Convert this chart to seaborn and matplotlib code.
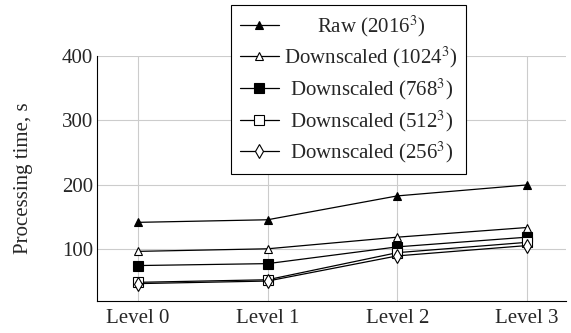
import matplotlib
matplotlib.use("Agg")
import matplotlib.pyplot as plt
import seaborn as sns
import pandas as pd

levels = ["Level 0", "Level 1", "Level 2", "Level 3"]
raw_2016 = [142, 146, 183, 200]
ds_1024 = [97, 101, 119, 134]
ds_768 = [75, 78, 104, 119]
ds_512 = [49, 53, 95, 111]
ds_256 = [47, 51, 90, 106]
series_names = ["Raw (2016$^3$)", "Downscaled (1024$^3$)", "Downscaled (768$^3$)",
                "Downscaled (512$^3$)", "Downscaled (256$^3$)"]
y_ticks = [100, 200, 300, 400]

sns.set_theme(style="whitegrid")
plt.rcParams["font.family"] = ["Liberation Serif", "DejaVu Serif"]
plt.rcParams["mathtext.fontset"] = "stix"

FS = 15
fig = plt.figure(figsize=(5.71, 3.33), dpi=100)
ax = fig.add_axes([0.170, 0.096, 0.821, 0.736])

styles = [("^", "black"), ("^", "white"), ("s", "black"), ("s", "white"), ("d", "white")]
sizes = [6, 6, 7, 7, 7]
all_series = [raw_2016, ds_1024, ds_768, ds_512, ds_256]
x_idx = list(range(len(levels)))
for name, vals, (m, fc), ms in zip(series_names, all_series, styles, sizes):
    df = pd.DataFrame({"x": x_idx, "y": vals})
    sns.lineplot(data=df, x="x", y="y", ax=ax, color="black", linewidth=0.9,
                 marker=m, markersize=ms, markerfacecolor=fc, markeredgecolor="black",
                 markeredgewidth=0.8, label=name)

ax.set_xlim(-0.315, 3.3)
ax.set_ylim(20, 400)
ax.set_xticks(x_idx)
ax.set_xticklabels(levels)
ax.set_yticks(y_ticks)
ax.set_xlabel("")
ax.set_ylabel("Processing time, s", fontsize=FS)
ax.yaxis.set_label_coords(-0.136, 0.5)
ax.tick_params(axis="y", labelsize=FS, length=0, pad=3)
ax.tick_params(axis="x", labelsize=FS, length=0, pad=6)
ax.grid(True, color="#cccccc", linewidth=0.8)
for s in ["top", "right"]:
    ax.spines[s].set_visible(False)
for s in ["left", "bottom"]:
    ax.spines[s].set_color("black")
    ax.spines[s].set_linewidth(0.8)

leg = ax.legend(loc="upper left", bbox_to_anchor=(0.405, 0.985),
                bbox_transform=fig.transFigure, fontsize=FS, frameon=True,
                fancybox=False, edgecolor="black", framealpha=1,
                handlelength=1.9, labelspacing=0.3, borderpad=0.4,
                handletextpad=0.25, borderaxespad=0)
leg.get_frame().set_linewidth(0.8)

# centre the legend labels within the text column
fig.canvas.draw()
renderer = fig.canvas.get_renderer()
widths = [t.get_window_extent(renderer).width for t in leg.get_texts()]
wmax = max(widths)
for t, w in zip(leg.get_texts(), widths):
    t.set_x((wmax - w) / 2.0)

fig.savefig("out.png", dpi=100)
